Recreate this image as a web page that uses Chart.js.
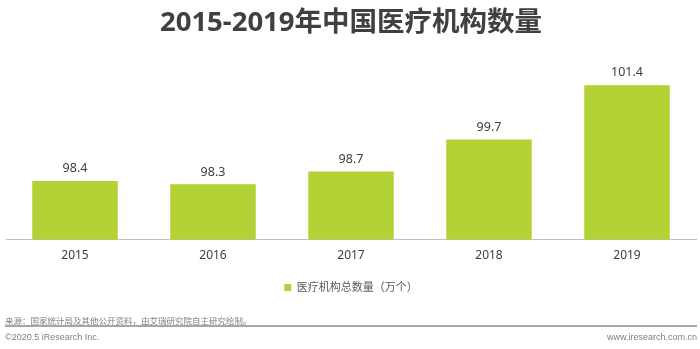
<!DOCTYPE html>
<html>
<head>
<meta charset="utf-8">
<script src="https://cdn.jsdelivr.net/npm/chart.js@4.4.0/dist/chart.umd.min.js"></script>
<style>
  html, body { margin: 0; padding: 0; background: #fff; }
  #wrap { position: relative; width: 700px; height: 349px; overflow: hidden; }
  #wrap canvas { position: absolute; left: 0; top: 0; }
  .src { position: absolute; left: 5px; top: 314px; font: 8.5px 'Noto Sans CJK SC', sans-serif; color: #7f7f7f; white-space: nowrap; }
  .rule { position: absolute; left: 5px; top: 325px; width: 692px; height: 2px; background: #a6a6a6; }
  .foot { position: absolute; top: 332px; font: 9px 'Liberation Sans', Arial, sans-serif; color: #7f7f7f; white-space: nowrap; }
</style>
</head>
<body>
<div id="wrap">
  <canvas id="myChart" width="700" height="349"></canvas>
  <div class="src">来源：国家统计局及其他公开资料，由艾瑞研究院自主研究绘制。</div>
  <div class="rule"></div>
  <div class="foot" style="left:5px">©2020.5 iResearch Inc.</div>
  <div class="foot" style="right:3px">www.iresearch.com.cn</div>
</div>
<script>
var years = ['2015', '2016', '2017', '2018', '2019'];
var institutions = [98.4, 98.3, 98.7, 99.7, 101.4];
var seriesName = '医疗机构总数量（万个）';
var titleText = '2015-2019年中国医疗机构数量';

var fontFamily = "'Noto Sans', 'Noto Sans CJK SC', sans-serif";

// value labels above each bar
var barLabels = {
    id: 'barLabels',
    afterDatasetsDraw: function (chart) {
        var ctx = chart.ctx;
        var meta = chart.getDatasetMeta(0);
        ctx.save();
        ctx.font = '12.5px ' + fontFamily;
        ctx.fillStyle = '#404040';
        ctx.textAlign = 'center';
        ctx.textBaseline = 'bottom';
        meta.data.forEach(function (bar, i) {
            ctx.fillText(institutions[i].toFixed(1), bar.x, bar.y - 6);
        });
        ctx.restore();
    }
};

var ctx = document.getElementById('myChart').getContext('2d');

var myChart = new Chart(ctx, {
    type: 'bar',
    data: {
        labels: years,
        datasets: [{
            label: seriesName,
            data: institutions,
            backgroundColor: '#b2d235',
            borderWidth: 0,
            categoryPercentage: 1,
            barPercentage: 0.62
        }]
    },
    options: {
        responsive: false,
        animation: false,
        layout: {
            padding: { left: 6, right: 4, top: 7, bottom: 46 }
        },
        plugins: {
            title: {
                display: true,
                text: titleText,
                color: '#404040',
                font: { family: fontFamily, size: 27.5, weight: 'bold' },
                padding: { top: 0, bottom: 10 }
            },
            legend: {
                position: 'bottom',
                labels: {
                    boxWidth: 7,
                    boxHeight: 7,
                    color: '#595959',
                    font: { family: fontFamily, size: 11 },
                    padding: 10
                }
            },
            tooltip: { enabled: false }
        },
        scales: {
            x: {
                grid: { display: false, drawTicks: false },
                border: { display: true, color: '#bfbfbf', width: 1 },
                ticks: {
                    color: '#404040',
                    padding: 9,
                    font: { family: fontFamily, size: 12 }
                }
            },
            y: {
                display: false,
                min: 96.57,
                max: 102.5
            }
        }
    },
    plugins: [barLabels]
});
</script>
</body>
</html>
